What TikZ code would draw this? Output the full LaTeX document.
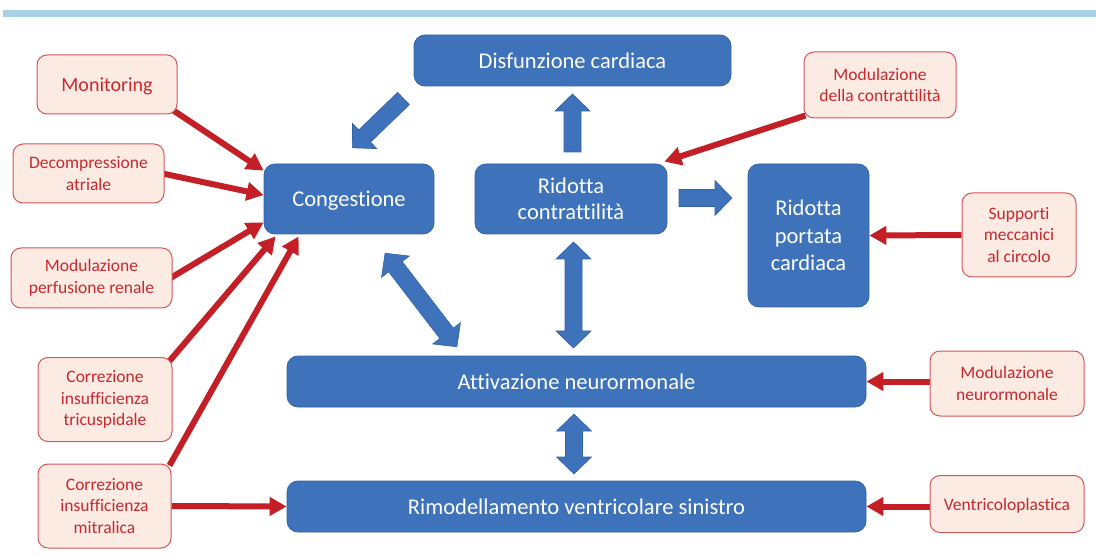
\documentclass[tikz,border=0pt]{standalone}
\usepackage{fontspec}
\setmainfont{Carlito}[Ligatures={NoCommon}]
\usetikzlibrary{arrows.meta,calc}
\pgfdeclarelayer{background}
\pgfsetlayers{background,main}
\definecolor{topbar}{HTML}{A9D1E6}
\definecolor{bfill}{HTML}{3E72BA}
\definecolor{bdraw}{HTML}{3463A5}
\definecolor{rfill}{HTML}{FCEBE3}
\definecolor{rdraw}{HTML}{D6545A}
\definecolor{rtext}{HTML}{C8282E}
\definecolor{rarrow}{HTML}{C41E26}
\tikzset{
  bluebox/.style={rectangle, rounded corners=11pt, fill=bfill, draw=bdraw, line width=0.8pt,
    text=white, align=center, inner sep=0pt, font=\fontsize{22.5}{27}\selectfont},
  redbox/.style={rectangle, rounded corners=10pt, fill=rfill, draw=rdraw, line width=1pt,
    text=rtext, align=center, inner sep=0pt, font=\fontsize{17.5}{21.5}\selectfont},
  oneline/.style={text depth=0pt},
  redarrow/.style={draw=rarrow, line width=6pt, -{Triangle[length=17pt,width=18pt]}},
  blockfill/.style={fill=bfill, draw=bdraw, line width=0.6pt},
}
\newcommand{\sblock}[3]{%
  \begin{scope}[shift={#1},rotate=#2]
    \path[blockfill] (0,-8.5) -- ({#3-17},-8.5) -- ({#3-17},-17.5) -- (#3,0)
      -- ({#3-17},17.5) -- ({#3-17},8.5) -- (0,8.5) -- cycle;
  \end{scope}}
\newcommand{\dblock}[3]{%
  \begin{scope}[shift={#1},rotate=#2]
    \path[blockfill] ({-#3/2},0) -- ({-#3/2+17},17.5) -- ({-#3/2+17},8.5) -- ({#3/2-17},8.5)
      -- ({#3/2-17},17.5) -- ({#3/2},0) -- ({#3/2-17},-17.5) -- ({#3/2-17},-8.5)
      -- ({-#3/2+17},-8.5) -- ({-#3/2+17},-17.5) -- cycle;
  \end{scope}}
\begin{document}
\begin{tikzpicture}[x=1pt,y=-1pt]
\useasboundingbox (0,0) rectangle (1096,556);
\fill[topbar] (3,10) rectangle (1096,17.5);

% blue boxes
\node[bluebox, oneline, minimum width=317pt, minimum height=51pt] (dis) at (572.5,60.5) {Disfunzione cardiaca};
\node[bluebox, oneline, minimum width=170pt, minimum height=70pt] (cong) at (349,199) {Congestione};
\node[bluebox, minimum width=192pt, minimum height=70pt, font=\fontsize{22.5}{26}\selectfont] (ridc) at (571,199) {Ridotta\\contrattilità};
\node[bluebox, minimum width=121pt, minimum height=143pt, font=\fontsize{22.5}{27.5}\selectfont] (port) at (808.5,235.5) {Ridotta\\portata\\cardiaca};
\node[bluebox, oneline, minimum width=579pt, minimum height=51pt] (att) at (576.5,381.5) {Attivazione neurormonale};
\node[bluebox, oneline, minimum width=579pt, minimum height=51pt] (rim) at (576.5,506.5) {Rimodellamento ventricolare sinistro};

% red boxes
\node[redbox, oneline, minimum width=140pt, minimum height=59pt, font=\fontsize{20}{24}\selectfont] (mon) at (107,84.5) {Monitoring};
\node[redbox, minimum width=151pt, minimum height=59pt] (dec) at (88.5,173.5) {Decompressione\\atriale};
\node[redbox, minimum width=161pt, minimum height=60pt] (perf) at (91.5,278) {Modulazione\\perfusione renale};
\node[redbox, minimum width=134pt, minimum height=84pt] (tric) at (105,399.5) {Correzione\\insufficienza\\tricuspidale};
\node[redbox, minimum width=133pt, minimum height=84pt] (mitr) at (104.5,506) {Correzione\\insufficienza\\mitralica};
\node[redbox, minimum width=152pt, minimum height=66pt] (modc) at (880,85) {Modulazione\\della contrattilità};
\node[redbox, minimum width=114pt, minimum height=84pt] (supp) at (1019,235) {Supporti\\meccanici\\al circolo};
\node[redbox, minimum width=154pt, minimum height=65pt] (modn) at (1007,383.5) {Modulazione\\neurormonale};
\node[redbox, oneline, minimum width=154pt, minimum height=57pt] (vent) at (1007,504) {Ventricoloplastica};

% block arrows
\sblock{(403.5,98.5)}{224}{71}
\sblock{(572.5,152)}{90}{58}
\sblock{(679,198)}{0}{53}
\dblock{(421,300)}{-52.5}{118}
\dblock{(573.5,295)}{90}{106}
\dblock{(574,444)}{90}{60}

% red connectors
\begin{pgfonlayer}{background}
\draw[redarrow] ($(mon.south east)+(-4,-4)$) -- ($(cong.north west)+(0,7)$);
\draw[redarrow] ($(dec.east)+(-2,0)$) -- ($(cong.west)+(0,-4)$);
\draw[redarrow] ($(perf.east)+(-2,0)$) -- ($(cong.south west)+(0,-12)$);
\draw[redarrow] ($(tric.north east)+(-3,4)$) -- ($(cong.south west)+(12,2)$);
\draw[redarrow] ($(mitr.north east)+(-2,2)$) -- ($(cong.south west)+(35,2)$);
\draw[redarrow] (mitr.east) -- (rim.west);
\draw[redarrow] ($(modc.south west)+(2,-3)$) -- ($(ridc.north east)+(-3,-2)$);
\draw[redarrow] (supp.west) -- (port.east);
\draw[redarrow] (modn.west |- att.east) -- (att.east);
\draw[redarrow] (vent.west |- rim.east) -- (rim.east);
\end{pgfonlayer}
\end{tikzpicture}
\end{document}
